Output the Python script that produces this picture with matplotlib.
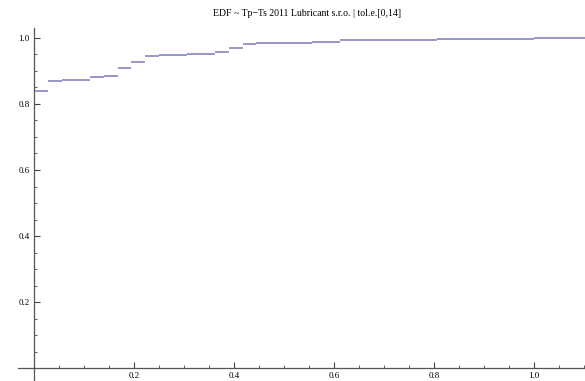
import numpy as np
import matplotlib
matplotlib.use("Agg")
import matplotlib.pyplot as plt
from matplotlib.ticker import MultipleLocator, FixedLocator

# step edges of the empirical distribution (start of each level)
step_x = [0.0, 0.028, 0.056, 0.111, 0.139, 0.167, 0.194, 0.222, 0.25,
          0.306, 0.361, 0.389, 0.417, 0.444, 0.556, 0.611, 0.806, 1.0]
step_y = [0.840, 0.868, 0.873, 0.881, 0.885, 0.908, 0.927, 0.945, 0.948,
          0.952, 0.958, 0.968, 0.981, 0.984, 0.987, 0.994, 0.997, 1.0]
x_end = 1.102

x_ticks = [0.2, 0.4, 0.6, 0.8, 1.0]
y_ticks = [0.2, 0.4, 0.6, 0.8, 1.0]
title = "EDF ~ Tp\u2212Ts 2011 Lubricant s.r.o. | tol.e.[0,14]"

plt.rcParams["font.family"] = ["Liberation Serif", "DejaVu Serif"]

fig = plt.figure(figsize=(5.85, 3.81), dpi=100)
ax = fig.add_axes([18 / 585, 0, 567 / 585, 353 / 381])

x_next = step_x[1:] + [x_end]
ax.hlines(step_y, step_x, x_next, colors="#7b7bbd", linewidth=1.1)

ax.set_xlim(-0.032, x_end)
ax.set_ylim(-0.039, 1.03)

for side in ["top", "right"]:
    ax.spines[side].set_visible(False)
ax.spines["left"].set_position(("data", 0))
ax.spines["bottom"].set_position(("data", 0))
for side in ["left", "bottom"]:
    ax.spines[side].set_color("#555555")
    ax.spines[side].set_linewidth(0.9)

ax.xaxis.set_major_locator(FixedLocator(x_ticks))
ax.yaxis.set_major_locator(FixedLocator(y_ticks))
ax.xaxis.set_minor_locator(MultipleLocator(0.05))
ax.yaxis.set_minor_locator(MultipleLocator(0.05))
ax.set_xticklabels([f"{v:.1f}" for v in x_ticks])
ax.set_yticklabels([f"{v:.1f}" for v in y_ticks])

ax.tick_params(axis="both", which="major", direction="in", length=4,
               width=0.8, color="#444444", labelsize=6.5, pad=3)
ax.tick_params(axis="both", which="minor", direction="in", length=2,
               width=0.6, color="#444444")

fig.text(0.525, 0.965, title, ha="center", va="center", fontsize=7)

fig.savefig("out.png", dpi=100)
